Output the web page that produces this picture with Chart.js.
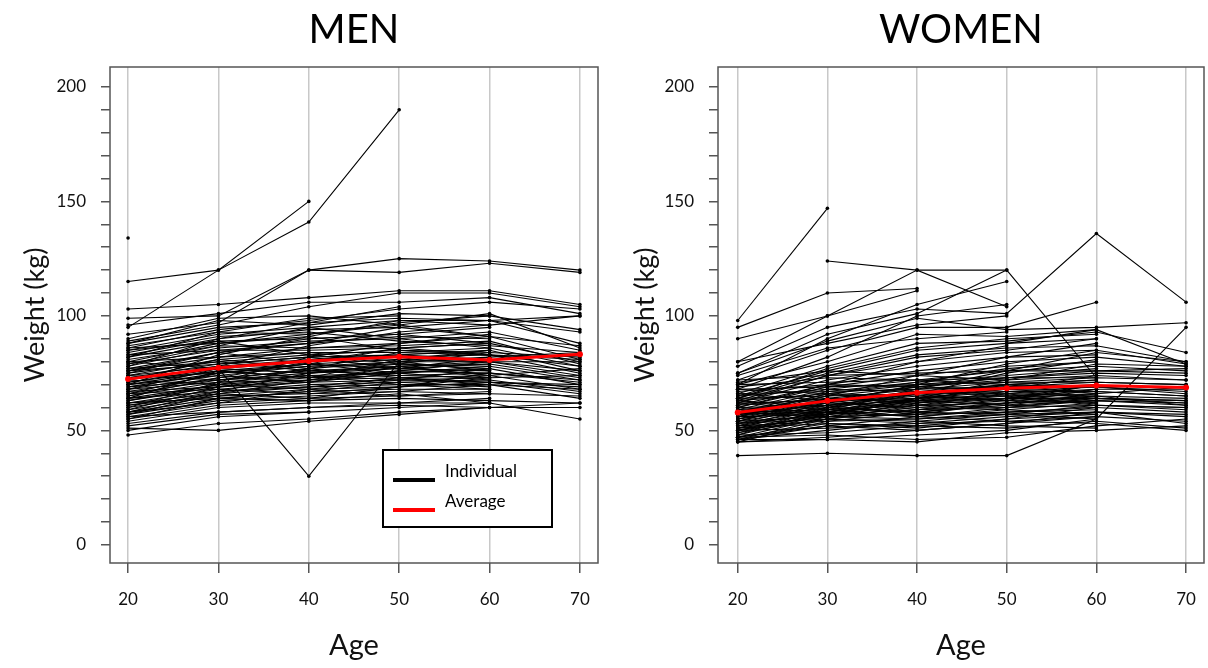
<!DOCTYPE html>
<html>
<head>
<meta charset="utf-8">
<script src="https://cdn.jsdelivr.net/npm/chart.js@4.4.1/dist/chart.umd.min.js"></script>
<style>
  html, body { margin: 0; background: #fff; }
  .panel { position: absolute; top: 0; width: 604px; height: 668px; }
</style>
</head>
<body>
<div class="panel" style="left:0"><canvas id="menChart" width="604" height="668"></canvas></div>
<div class="panel" style="left:604px"><canvas id="womenChart" width="604" height="668"></canvas></div>
<script>
const ages = [20, 30, 40, 50, 60, 70];
const yTickLabels = [0, 50, 100, 150, 200];
const legendLabels = ['Individual', 'Average'];

const menAverage = [72.4, 77.4, 80.3, 82.2, 80.8, 83.3];
const womenAverage = [57.8, 62.9, 66.5, 68.4, 69.6, 68.7];

// one row per person, weight (kg) at ages 20..70, null = not measured
const menWeights = [
  [134, null, null, null, null, null],
  [115, 120, 150, null, null, null],
  [95, 120, 141, 190, null, null],
  [99, 100, 120, 125, 124, 120],
  [92, 97, 120, 119, 123, 119],
  [103, 105, 108, 111, 111, 105],
  [96, 101, 106, 106, 108, 101],
  [89, 96, 104, 110, 110, 104],
  [86, 94, 98, 103, 106, 103],
  [88, 98, 96, 101, 100, 94],
  [85, 92, 95, 98, 98, 93],
  [83, 90, 97, 99, 98, 88],
  [80, 88, 92, 96, 101, 86],
  [82, 89, 90, 92, 95, null],
  [78, 86, 89, 90, 93, 85],
  [81, 87, 86, 88, 91, 81],
  [77, 84, 88, 91, 90, null],
  [79, 85, 85, 86, 88, 80],
  [76, 82, 86, 87, 89, 79],
  [74, 81, 84, 84, 86, 78],
  [75, 80, 83, 85, 84, null],
  [73, 79, 82, 83, 85, 76],
  [72, 78, 81, 83, 81, null],
  [71, 77, 80, 82, 83, 75],
  [70, 76, 79, 81, 80, 74],
  [69, 75, 78, 80, 82, null],
  [68, 74, 78, 79, 78, 72],
  [67, 73, 76, 78, 79, 73],
  [66, 72, 75, 77, 76, null],
  [65, 71, 74, 75, 77, 70],
  [64, 70, 73, 74, 75, null],
  [63, 69, 72, 73, 74, 68],
  [62, 68, 71, 72, 73, null],
  [61, 67, 70, 71, 72, 67],
  [60, 66, 69, 70, 70, null],
  [59, 65, 68, 69, 71, 66],
  [58, 64, 67, 68, 68, null],
  [57, 63, 65, 67, 66, 65],
  [56, 62, 64, 65, 67, null],
  [55, 61, 63, 64, 63, 62],
  [54, 60, 62, 62, 64, null],
  [53, 58, 60, 61, 60, 60],
  [52, 57, 58, 60, 62, null],
  [51, 50, 54, 57, 60, 62],
  [48, 53, 55, 58, 60, null],
  [50, 56, 58, null, null, null],
  [80, 77, 30, 80, 85, null],
  [87, 93, 92, 97, 100, null],
  [90, 99, 100, 96, 91, 87],
  [84, 91, 93, 89, 87, 84],
  [77, 80, 76, 74, 73, null],
  [72, 70, 68, 72, 71, 70],
  [69, 72, 74, 70, 68, null],
  [66, 68, 66, 67, 70, 64],
  [62, 64, 63, 66, 62, null],
  [80, 82, 84, 80, 80, 80],
  [85, 89, 83, 79, 77, null],
  [74, 78, 87, 93, 96, null],
  [78, 90, 94, 95, 91, null],
  [70, 83, 91, 98, 96, 100],
  [75, 84, 90, 92, 88, null],
  [68, 77, 75, 79, 84, 82],
  [65, 73, 80, 86, 88, null],
  [63, 70, 77, 84, 83, 78],
  [60, 71, 72, 76, 80, null],
  [58, 67, 75, 78, 80, 76],
  [57, 66, 64, 69, 73, null],
  [55, 64, 67, 71, 69, null],
  [56, 58, 60, 62, 62, 55],
  [73, 75, 79, 77, 82, 84],
  [71, 76, 73, 76, 75, 72],
  [67, 69, 71, 75, 78, null],
  [64, 67, 69, 73, 71, 69],
  [61, 65, 66, 69, 75, 71],
  [82, 93, 99, 100, null, null],
  [88, 95, 97, 104, null, null],
  [86, 88, 91, 85, 83, null],
  [76, 79, 82, 88, 92, null],
  [79, 87, 95, 90, 86, null],
  [83, 85, 88, 95, 98, 100],
  [74, 72, 77, 80, 76, null],
  [70, 74, 71, 78, 74, 77],
  [66, 75, 79, 75, 72, null],
  [62, 66, 72, 78, 73, 74],
  [59, 69, 74, 72, 77, null],
  [76, 84, 79, 86, 83, 81],
  [68, 71, 82, 77, 79, null],
  [64, 76, 73, 81, 85, null],
  [72, 81, 77, 73, 70, 68],
  [58, 62, 68, 65, 66, null]
];

const womenWeights = [
  [98, 147, null, null, null, null],
  [null, 124, 120, 120, 73, null],
  [95, 110, 112, null, null, null],
  [90, 100, 111, null, null, null],
  [80, 100, 120, 104, null, null],
  [75, 92, 101, 120, null, null],
  [70, 90, 105, 115, null, null],
  [78, 95, 103, 101, 136, 106],
  [39, 40, 39, 39, 55, 95],
  [72, 85, 95, 95, 106, null],
  [68, 82, 100, 105, null, null],
  [75, 89, 99, 94, 95, 97],
  [70, 80, 92, 91, 94, null],
  [66, 78, 88, 89, 93, 84],
  [65, 76, 85, 88, 90, null],
  [64, 75, 83, 86, 87, 80],
  [63, 74, 80, 84, 85, 79],
  [62, 72, 78, 82, 83, null],
  [61, 70, 76, 80, 82, 78],
  [60, 69, 74, 78, 80, null],
  [59, 68, 72, 76, 78, 76],
  [58, 67, 71, 74, 77, null],
  [57, 66, 70, 73, 75, 74],
  [56, 65, 69, 72, 74, null],
  [55, 64, 68, 71, 73, 72],
  [54, 63, 67, 70, 72, null],
  [53, 62, 66, 69, 71, 70],
  [52, 61, 65, 68, 70, null],
  [51, 60, 64, 67, 69, 67],
  [50, 59, 63, 66, 68, null],
  [49, 58, 62, 65, 67, 65],
  [48, 57, 61, 64, 66, null],
  [47, 56, 60, 63, 65, 64],
  [46, 55, 59, 62, 64, null],
  [45, 54, 58, 61, 63, 62],
  [47, 52, 56, 59, 62, null],
  [46, 50, 54, 57, 61, 60],
  [48, 49, 52, 55, 60, null],
  [45, 47, 50, 53, 58, 57],
  [46, 46, 48, 50, 55, null],
  [47, 48, 46, 47, 52, 55],
  [45, 46, 45, 49, 50, 52],
  [50, 51, 53, 54, 56, null],
  [52, 54, 55, 57, 58, 53],
  [54, 56, 57, 58, 59, null],
  [56, 57, 59, 60, 61, 60],
  [58, 59, 61, 62, 63, null],
  [60, 61, 63, 64, 64, 63],
  [62, 63, 64, 65, 66, null],
  [64, 65, 66, 67, 67, 65],
  [66, 67, 68, 69, 69, null],
  [68, 69, 70, 71, 71, 70],
  [70, 71, 72, 73, 73, null],
  [72, 74, 75, 76, 76, 75],
  [55, 60, 58, 57, 55, null],
  [57, 58, 56, 54, 53, 50],
  [53, 55, 54, 52, 51, null],
  [51, 53, 52, 51, 54, 51],
  [59, 62, 60, 59, 57, null],
  [61, 64, 63, 61, 60, 58],
  [63, 66, 65, 63, 62, null],
  [65, 68, 67, 66, 65, 61],
  [67, 70, 69, 68, 67, null],
  [69, 73, 72, 70, 69, 66],
  [71, 76, 74, 72, null, null],
  [58, 65, 74, 82, 88, null],
  [56, 62, 70, 79, 85, null],
  [54, 60, 68, 76, 84, 80],
  [52, 58, 66, 75, 81, null],
  [50, 57, 64, 72, 79, 78],
  [60, 70, 80, 87, null, null],
  [62, 74, 82, 85, 90, null],
  [64, 77, 86, 90, 92, null],
  [57, 63, 59, 64, 68, 68],
  [55, 61, 57, 62, 65, null],
  [53, 59, 56, 60, 63, 61],
  [51, 56, 55, 58, 60, null],
  [49, 55, 53, 56, 58, 56],
  [47, 53, 51, 55, 57, null],
  [46, 52, 50, 53, 56, 54],
  [58, 56, 62, 64, 70, null],
  [60, 58, 64, 68, 74, 72],
  [63, 60, 66, 70, 72, null],
  [66, 63, 69, 73, 76, 77],
  [68, 66, 71, 77, 80, null],
  [null, null, null, 88, 94, 79],
  [80, 88, 96, 100, null, null],
  [74, 86, 90, 93, null, null],
  [57, 61, 66, 63, 70, null],
  [54, 64, 62, 67, 64, 63],
  [50, 55, 61, 66, 62, null],
  [59, 57, 63, 61, 66, 69],
  [48, 60, 58, 62, 68, null],
  [62, 59, 67, 65, 61, 59],
  [53, 57, 63, 70, 66, null],
  [56, 66, 61, 60, 64, 62]
];

const FONT = 'Lato, "Open Sans", sans-serif';
const AXIS_GREY = '#555';

function toPoints(values) {
  return ages.map((a, i) => ({ x: a, y: values[i] }));
}

function buildDatasets(rows, avg) {
  const sets = [{
    label: legendLabels[1],
    data: toPoints(avg),
    borderColor: '#ff0000',
    backgroundColor: '#ff0000',
    borderWidth: 3,
    pointRadius: 3,
    pointBorderWidth: 0
  }];
  for (const r of rows) {
    sets.push({
      label: legendLabels[0],
      data: toPoints(r),
      borderColor: '#000',
      backgroundColor: '#000',
      borderWidth: 1.1,
      pointRadius: 1.8,
      pointBorderWidth: 0,
      spanGaps: false
    });
  }
  return sets;
}

// frame around the plot area
const boxPlugin = {
  id: 'box',
  afterDraw(chart) {
    const { ctx, chartArea: a } = chart;
    ctx.save();
    ctx.strokeStyle = AXIS_GREY;
    ctx.lineWidth = 1.5;
    ctx.strokeRect(a.left, a.top, a.right - a.left, a.bottom - a.top);
    ctx.restore();
  }
};

// legend box drawn inside the plot (men only)
const innerLegend = {
  id: 'innerLegend',
  afterDraw(chart, args, opts) {
    if (!opts.show) return;
    const { ctx, chartArea: a } = chart;
    const w = 169, h = 77;
    const x = a.right - 46 - w, y = a.bottom - 36 - h;
    ctx.save();
    ctx.fillStyle = '#fff';
    ctx.fillRect(x, y, w, h);
    ctx.strokeStyle = '#000';
    ctx.lineWidth = 2;
    ctx.strokeRect(x, y, w, h);
    const colors = ['#000', '#ff0000'];
    legendLabels.forEach((lab, i) => {
      const ly = y + 30 + i * 30;
      ctx.strokeStyle = colors[i];
      ctx.lineWidth = 4;
      ctx.beginPath();
      ctx.moveTo(x + 10, ly);
      ctx.lineTo(x + 52, ly);
      ctx.stroke();
      ctx.fillStyle = '#000';
      ctx.font = '17px ' + FONT;
      ctx.textBaseline = 'alphabetic';
      ctx.fillText(lab, x + 62, ly - 3);
    });
    ctx.restore();
  }
};

const yTickValues = [];
for (let v = yTickLabels[0]; v <= yTickLabels[yTickLabels.length - 1]; v += 10) yTickValues.push(v);

function noEdgePadding(s) {
  s.paddingLeft = 0; s.paddingRight = 0; s.paddingTop = 0; s.paddingBottom = 0;
}

function makeChart(id, title, rows, avg, cfg) {
  return new Chart(document.getElementById(id), {
    type: 'line',
    data: { datasets: buildDatasets(rows, avg) },
    plugins: [boxPlugin, innerLegend],
    options: {
      responsive: false,
      animation: false,
      events: [],
      layout: { padding: { left: cfg.padLeft, right: cfg.padRight, top: 0, bottom: 1 } },
      scales: {
        x: {
          type: 'linear',
          min: cfg.xMin,
          max: 72,
          afterFit: s => { s.height = 104; noEdgePadding(s); },
          afterBuildTicks: s => { s.ticks = ages.map(v => ({ value: v })); },
          ticks: { color: '#111', padding: 16, font: { family: FONT, size: 17 } },
          grid: { color: '#c8c8c8', lineWidth: 1.5, tickColor: AXIS_GREY, tickLength: 10, tickWidth: 1.5 },
          border: { display: false },
          title: { display: true, text: 'Age', color: '#111', font: { family: FONT, size: 29 }, padding: { top: 4, bottom: 4 } }
        },
        y: {
          min: -7.9,
          max: 208.7,
          afterFit: s => { s.width = cfg.yWidth; noEdgePadding(s); },
          afterBuildTicks: s => { s.ticks = yTickValues.map(v => ({ value: v })); },
          ticks: {
            color: '#111', padding: 15, autoSkip: false, font: { family: FONT, size: 17 },
            callback: v => yTickLabels.includes(v) ? v : ''
          },
          grid: { drawOnChartArea: false, color: AXIS_GREY, tickLength: 9, lineWidth: 1.5 },
          border: { display: false },
          title: { display: true, text: 'Weight (kg)', color: '#111', font: { family: FONT, size: 27 }, padding: { top: 4, bottom: 4 } }
        }
      },
      plugins: {
        legend: { display: false },
        tooltip: { enabled: false },
        title: {
          display: true, text: title, fullSize: false, color: '#000',
          font: { family: FONT, size: 40, weight: 'normal' },
          padding: { top: 6, bottom: 13 }
        },
        innerLegend: { show: cfg.legend }
      }
    }
  });
}

makeChart('menChart', 'MEN', menWeights, menAverage, { padLeft: 15, padRight: 6, yWidth: 95, xMin: 18, legend: true });
makeChart('womenChart', 'WOMEN', womenWeights, womenAverage, { padLeft: 21, padRight: 3, yWidth: 93, xMin: 17.8, legend: false });
</script>
</body>
</html>
